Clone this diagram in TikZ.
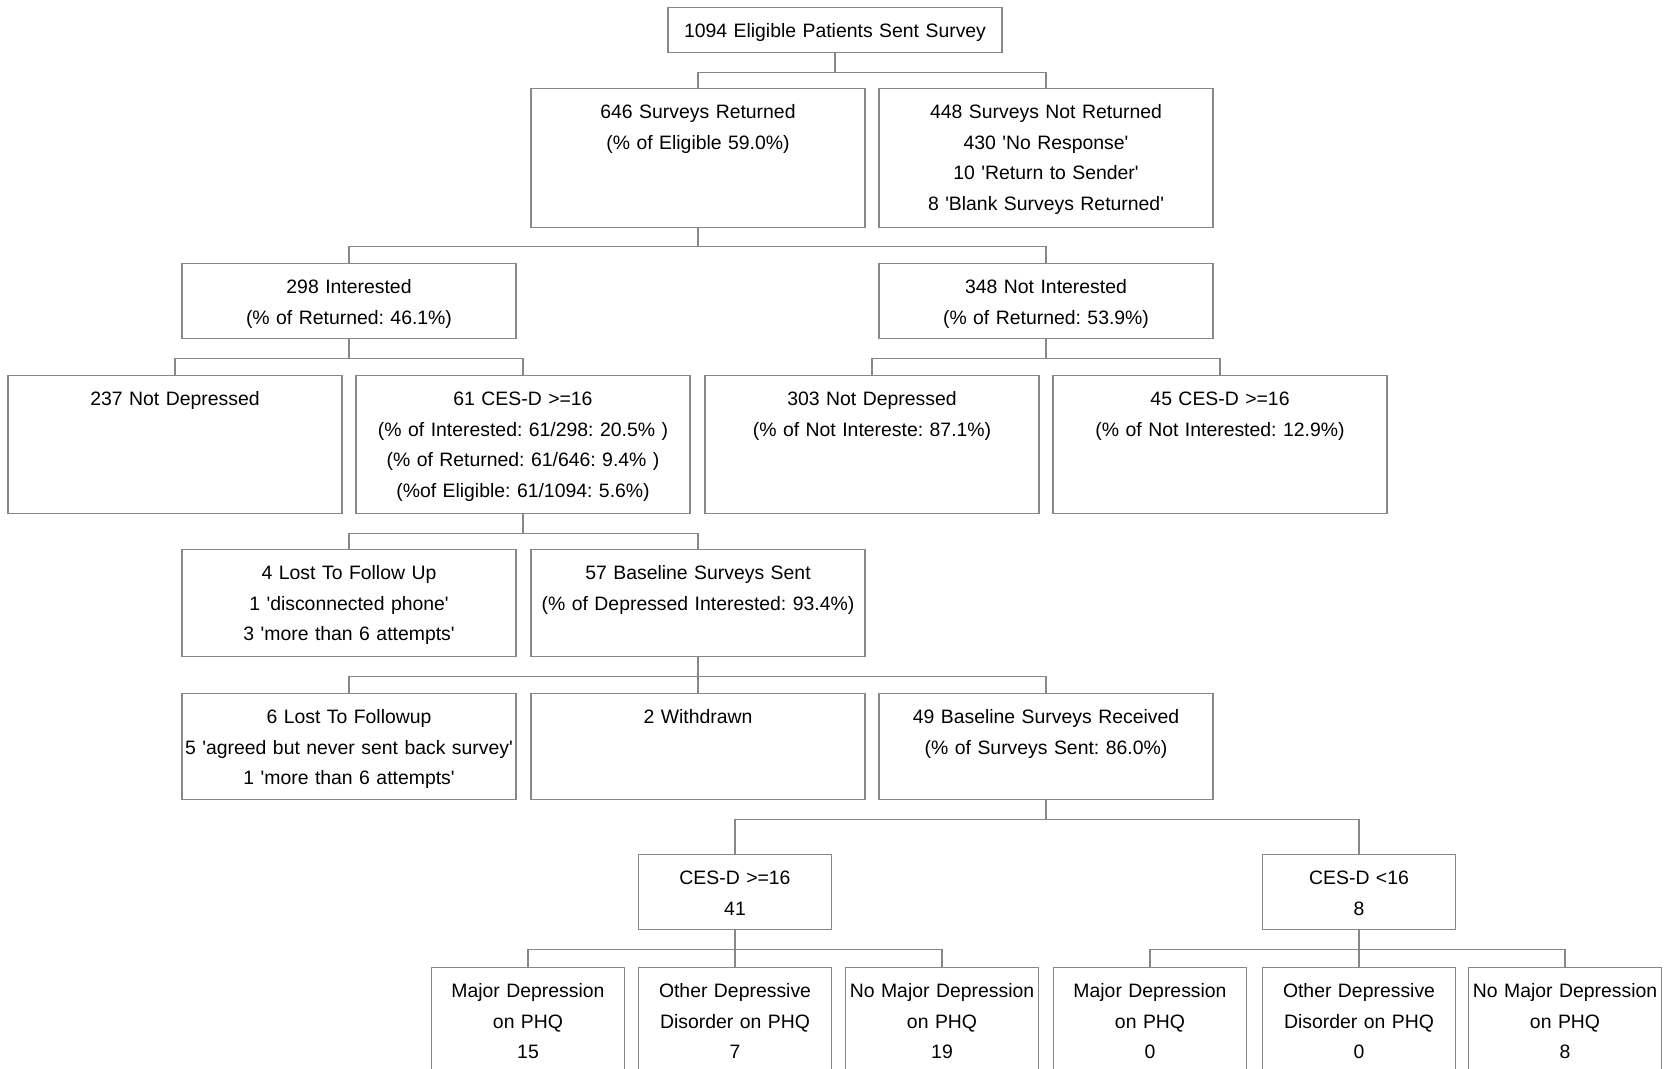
\documentclass[tikz,border=0pt]{standalone}
\usepackage{fontspec}
\setmainfont{Liberation Sans}
\definecolor{linegray}{RGB}{135,135,135}
\newcommand{\apos}{\textquotesingle}
\frenchspacing

\begin{document}
\begin{tikzpicture}[x=0.5pt, y=-0.5pt,
  box/.style={draw=linegray, line width=0.6pt, anchor=north, align=center,
    inner xsep=1pt, inner ysep=0pt, text width=165pt, text height=15pt,
    font=\fontsize{9.7}{15.25}\selectfont},
  small/.style={text width=94.5pt},
  conn/.style={draw=linegray, line width=0.6pt}]
\path[use as bounding box, clip] (0,0) rectangle (1668,1069);

% first two levels
\node[box, text depth=7.5pt] (sent) at (835,7) {1094 Eligible Patients Sent Survey};
\node[box, text depth=54.5pt] (ret) at (698,88) {646 Surveys Returned\\(\% of Eligible 59.0\%)};
\node[box, text depth=54.5pt] (notret) at (1046,88) {448 Surveys Not Returned\\430 \apos No Response\apos\\10 \apos Return to Sender\apos\\8 \apos Blank Surveys Returned\apos};

% interest
\node[box, text depth=22.5pt] (int) at (349,263) {298 Interested\\(\% of Returned: 46.1\%)};
\node[box, text depth=22.5pt] (notint) at (1046,263) {348 Not Interested\\(\% of Returned: 53.9\%)};

% CES-D screen
\node[box, text depth=54pt] (intnd) at (175,375) {237 Not Depressed};
\node[box, text depth=54pt] (intdep) at (523,375) {61 CES-D >=16\\(\% of Interested: 61/298: 20.5\% )\\(\% of Returned: 61/646: 9.4\% )\\(\%of Eligible: 61/1094: 5.6\%)};
\node[box, text depth=54pt] (notintnd) at (872,375) {303 Not Depressed\\(\% of Not Intereste: 87.1\%)};
\node[box, text depth=54pt] (notintdep) at (1220,375) {45 CES-D >=16\\(\% of Not Interested: 12.9\%)};

% baseline
\node[box, text depth=38.5pt] (lostA) at (349,549) {4 Lost To Follow Up\\1 \apos disconnected phone\apos\\3 \apos more than 6 attempts\apos};
\node[box, text depth=38.5pt] (basesent) at (698,549) {57 Baseline Surveys Sent\\(\% of Depressed Interested: 93.4\%)};
\node[box, text depth=38pt] (lostB) at (349,693) {6 Lost To Followup\\5 \apos agreed but never sent back survey\apos\\1 \apos more than 6 attempts\apos};
\node[box, text depth=38pt] (withdrawn) at (698,693) {2 Withdrawn};
\node[box, text depth=38pt] (baserecv) at (1046,693) {49 Baseline Surveys Received\\(\% of Surveys Sent: 86.0\%)};

% PHQ
\node[box, small, text depth=22.5pt] (hi) at (735,854) {CES-D >=16\\41};
\node[box, small, text depth=22.5pt] (lo) at (1359,854) {CES-D <16\\8};
\node[box, small, text depth=45pt] (himdd) at (528,967) {Major Depression\\on PHQ\\15};
\node[box, small, text depth=45pt] (hiodd) at (735,967) {Other Depressive\\Disorder on PHQ\\7};
\node[box, small, text depth=45pt] (hino) at (942,967) {No Major Depression\\on PHQ\\19};
\node[box, small, text depth=45pt] (lomdd) at (1150,967) {Major Depression\\on PHQ\\0};
\node[box, small, text depth=45pt] (loodd) at (1359,967) {Other Depressive\\Disorder on PHQ\\0};
\node[box, small, text depth=45pt] (lono) at (1565,967) {No Major Depression\\on PHQ\\8};

% connectors
\draw[conn] (sent.south) -- ++(0,19) -| (ret.north);
\draw[conn] (sent.south) -- ++(0,19) -| (notret.north);
\draw[conn] (ret.south) -- ++(0,18) -| (int.north);
\draw[conn] (ret.south) -- ++(0,18) -| (notint.north);
\draw[conn] (int.south) -- ++(0,19) -| (intnd.north);
\draw[conn] (int.south) -- ++(0,19) -| (intdep.north);
\draw[conn] (notint.south) -- ++(0,19) -| (notintnd.north);
\draw[conn] (notint.south) -- ++(0,19) -| (notintdep.north);
\draw[conn] (intdep.south) -- ++(0,19) -| (lostA.north);
\draw[conn] (intdep.south) -- ++(0,19) -| (basesent.north);
\draw[conn] (basesent.south) -- ++(0,19) -| (lostB.north);
\draw[conn] (basesent.south) -- (withdrawn.north);
\draw[conn] (basesent.south) -- ++(0,19) -| (baserecv.north);
\draw[conn] (baserecv.south) -- ++(0,19) -| (hi.north);
\draw[conn] (baserecv.south) -- ++(0,19) -| (lo.north);
\draw[conn] (hi.south) -- ++(0,19) -| (himdd.north);
\draw[conn] (hi.south) -- (hiodd.north);
\draw[conn] (hi.south) -- ++(0,19) -| (hino.north);
\draw[conn] (lo.south) -- ++(0,19) -| (lomdd.north);
\draw[conn] (lo.south) -- (loodd.north);
\draw[conn] (lo.south) -- ++(0,19) -| (lono.north);

\end{tikzpicture}
\end{document}
